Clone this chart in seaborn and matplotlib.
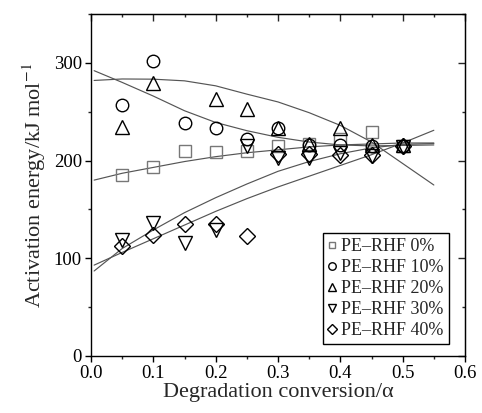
import matplotlib
matplotlib.use("Agg")
import matplotlib.pyplot as plt
import seaborn as sns
import numpy as np
from matplotlib.ticker import MultipleLocator

# ---- data ----
alpha = [0.05, 0.10, 0.15, 0.20, 0.25, 0.30, 0.35, 0.40, 0.45, 0.50]
alpha20 = [0.05, 0.10, 0.20, 0.25, 0.30, 0.35, 0.40, 0.45, 0.50]

ea_0 = [185, 193, 209.5, 208.5, 210, 215, 217, 222, 229.6, 215]
ea_10 = [257, 302, 238.5, 233, 222, 233, 216, 216, 215, 215]
ea_20 = [234, 279, 263, 253, 233, 217, 233, 216, 216]
ea_30 = [119, 136, 116, 128.5, 215, 203, 203, 208, 205, 214]
ea_40 = [112.5, 123.6, 134.7, 135.5, 123.3, 206.8, 206.8, 206, 206, 214.6]

# fitted curves
fit_x = [0.005, 0.05, 0.10, 0.15, 0.20, 0.25, 0.30, 0.35, 0.40, 0.45, 0.50, 0.55]
fit_0 = [180, 187, 193, 199, 204, 208, 211, 214, 216, 217, 218, 218]
fit_10 = [292, 280, 266, 251, 239, 230.6, 223.8, 219, 216, 215, 215.5, 216]
fit_20 = [282, 283.5, 283.3, 281.6, 276.5, 268, 260, 249, 236, 219, 197, 175]
fit_30 = [87, 110, 129, 146.7, 162, 176, 189, 199, 207, 213, 216.5, 217.5]
fit_40 = [93, 106, 120, 134, 148, 161, 173, 184, 195, 206, 218, 231]

labels = ["PE\u2013RHF 0%", "PE\u2013RHF 10%", "PE\u2013RHF 20%",
          "PE\u2013RHF 30%", "PE\u2013RHF 40%"]

sns.set_style("ticks")
plt.rcParams["font.family"] = ["Liberation Serif", "DejaVu Serif"]
plt.rcParams["mathtext.fontset"] = "stix"

fig = plt.figure(figsize=(4.82, 4.13), dpi=100)
ax = fig.add_axes([91 / 482, 1 - 356 / 413, (465 - 91) / 482, (356 - 14) / 413])

curve_color = "#555555"
for fy in [fit_0, fit_10, fit_20, fit_30, fit_40]:
    sns.lineplot(x=fit_x, y=fy, ax=ax, color=curve_color, lw=0.85,
                 estimator=None, sort=False)

series = [
    (alpha, ea_0, "s", "#777777", 8.0),
    (alpha, ea_10, "o", "black", 9.0),
    (alpha20, ea_20, "^", "black", 10.5),
    (alpha, ea_30, "v", "black", 10.5),
    (alpha, ea_40, "D", "black", 8.5),
]
for (xs, ys, m, ec, ms), lab in zip(series, labels):
    sns.lineplot(x=xs, y=ys, ax=ax, marker=m, linestyle="none",
                 markerfacecolor="none", markeredgecolor=ec, markersize=ms,
                 markeredgewidth=1.0, estimator=None, sort=False, label=lab)

ax.set_xlim(0, 0.6)
ax.set_ylim(0, 350)
ax.xaxis.set_major_locator(MultipleLocator(0.1))
ax.xaxis.set_minor_locator(MultipleLocator(0.05))
ax.yaxis.set_major_locator(MultipleLocator(100))
ax.yaxis.set_minor_locator(MultipleLocator(50))
ax.set_xticks(np.arange(0, 0.61, 0.1))
ax.set_xticklabels(["0.0", "0.1", "0.2", "0.3", "0.4", "0.5", "0.6"])

ax.tick_params(which="major", direction="out", length=4.5, width=1,
               labelsize=13.5, colors="black", pad=2)
ax.tick_params(which="minor", direction="out", length=2.3, width=1)

for s in ax.spines.values():
    s.set_visible(True)
    s.set_linewidth(1.0)
    s.set_color("black")

# top and right: inward ticks, no labels
secx = ax.secondary_xaxis("top")
secx.xaxis.set_major_locator(MultipleLocator(0.1))
secx.xaxis.set_minor_locator(MultipleLocator(0.05))
secx.tick_params(which="major", direction="in", length=5, width=1, labeltop=False)
secx.tick_params(which="minor", direction="in", length=2.3, width=1)
secy = ax.secondary_yaxis("right")
secy.yaxis.set_major_locator(MultipleLocator(100))
secy.yaxis.set_minor_locator(MultipleLocator(50))
secy.tick_params(which="major", direction="in", length=5, width=1, labelright=False)
secy.tick_params(which="minor", direction="in", length=2.3, width=1)

ax.set_xlabel("Degradation conversion/\u03b1", fontsize=16, labelpad=1)
ax.set_ylabel("Activation energy/kJ mol$^{-1}$", fontsize=16, labelpad=4)

leg = ax.legend(loc="lower right", bbox_to_anchor=(0.957, 0.035),
                borderaxespad=0, fontsize=13, frameon=True, fancybox=False,
                edgecolor="black", framealpha=1, markerscale=0.6,
                handlelength=0.45, handletextpad=0.3, labelspacing=0.22,
                borderpad=0.28)
leg.get_frame().set_linewidth(1.0)

fig.savefig("out.png", dpi=100)
